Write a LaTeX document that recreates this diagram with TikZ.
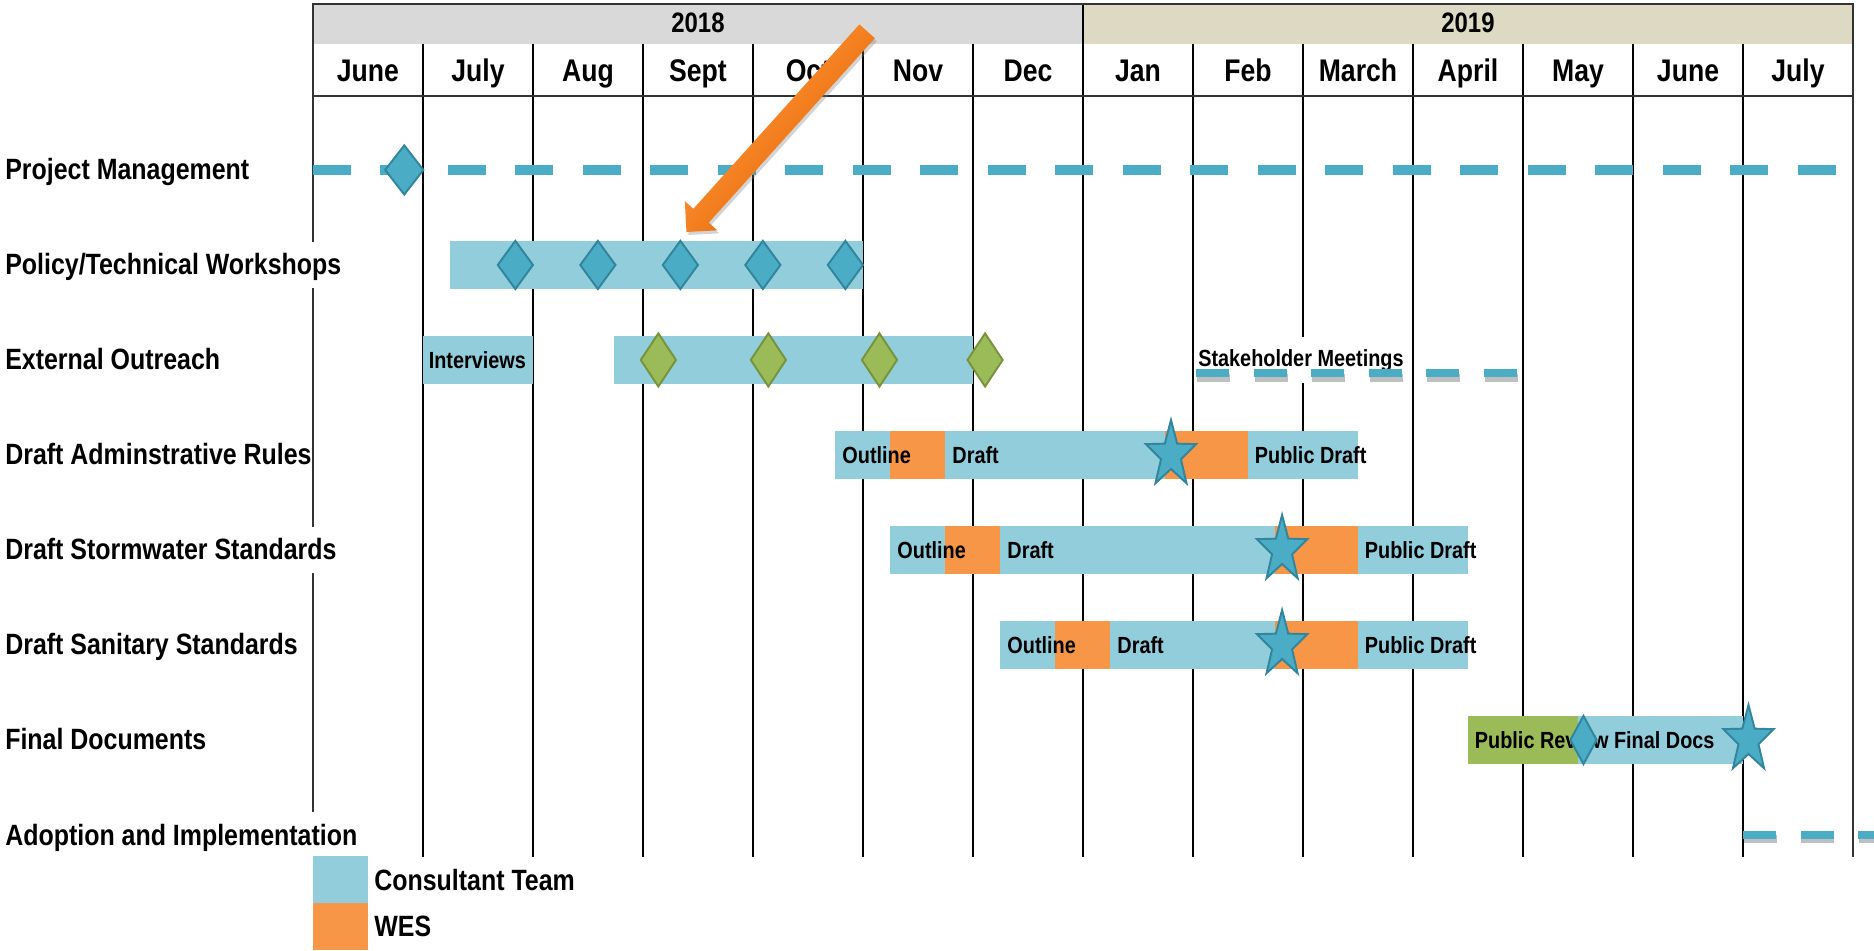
\documentclass[tikz,border=0pt]{standalone}
\usepackage{fontspec}
\setmainfont{Liberation Sans}[FakeStretch=0.85]
\usetikzlibrary{shapes.geometric,shapes.arrows,shadows}
\definecolor{cteam}{HTML}{92CDDC}
\definecolor{wes}{HTML}{F79646}
\definecolor{review}{HTML}{9BBB59}
\definecolor{mileblue}{HTML}{4BACC6}
\definecolor{mileedge}{HTML}{31859C}
\definecolor{greenedge}{HTML}{77933C}
\definecolor{yr18}{HTML}{D9D9D9}
\definecolor{yr19}{HTML}{DDD9C3}
\definecolor{arrdark}{HTML}{C25C0E}
\definecolor{arrmid}{HTML}{F47F1F}
\definecolor{arrlight}{HTML}{F9A85A}

\begin{document}
\begin{tikzpicture}[x=2.2cm,y=-1.9cm,
  grid/.style={draw=black,line width=0.7pt},
  frame/.style={draw=black!80,line width=1.1pt},
  yrtxt/.style={anchor=base,inner sep=0pt,font=\fontsize{16}{18}\selectfont\bfseries},
  montxt/.style={anchor=base,inner sep=0pt,font=\fontsize{17.8}{20}\selectfont\bfseries},
  rowlbl/.style={anchor=west,fill=white,inner xsep=0pt,inner ysep=0pt,text height=19pt,text depth=7.6pt,font=\fontsize{16.7}{18}\selectfont\bfseries},
  bartxt/.style={anchor=west,inner sep=0pt,text height=13pt,text depth=3.5pt,font=\fontsize{13.3}{15}\selectfont\bfseries},
  meettxt/.style={bartxt,fill=white,text height=17pt,text depth=9pt},
  legtxt/.style={anchor=base west,inner sep=0pt,font=\fontsize{16.7}{18}\selectfont\bfseries},
  pmline/.style={draw=mileblue,line width=0.2cm,dash pattern=on 0.76cm off 0.59cm},
  meetline/.style={draw=mileblue,line width=0.16cm,dash pattern=on 0.66cm off 0.49cm},
  meetshadow/.style={meetline,draw=black,opacity=0.25,xshift=0.5pt,yshift=-2.5pt},
  mile/.style={diamond,draw=mileedge,fill=mileblue,line width=1.1pt,inner sep=0pt,minimum width=0.72cm,minimum height=0.98cm},
  greenmile/.style={mile,draw=greenedge,fill=review,minimum height=1.08cm},
  starline/.style={draw=mileedge,fill=mileblue,line width=1.1pt},
  pics/milestar/.style={code={\draw[starline] (90:0.53cm and 0.7cm) \foreach \k in {0,...,4}{ -- (126+72*\k:0.21cm and 0.28cm) -- (162+72*\k:0.53cm and 0.7cm)} -- cycle;}}]
	\useasboundingbox (-2.845,-0.789) rectangle (14.191,9.221);
	
	% year bands and month grid
	\fill[yr18] (0,-0.75) rectangle (7,-0.33);
	\fill[yr19] (7,-0.75) rectangle (14,-0.33);
	\draw (3.5,-0.45)node[yrtxt](y18){2018} (10.5,-0.45)node[yrtxt](y19){2019};
	\foreach \i in {1,...,13}
	\draw[grid] (\i,-0.33)--(\i,8.23);
	\draw[grid] (7,-0.75)--(7,-0.33);
	\draw[frame] (0,8.23)--(0,-0.75)--(14,-0.75)--(14,8.23) (0,0.22)--(14,0.22);
	\foreach \m [count=\i from 0] in {June,July,Aug,Sept,Oct,Nov,Dec,Jan,Feb,March,April,May,June,July}
	\node[montxt] (m\i) at (\i+0.5,0.074) {\m};
	
	% bars: consultant team, WES, public review
	\foreach \a/\b/\r in {1.25/5/2,1/2/3,2.74/6/3,4.75/9.5/4,5.25/10.5/5,6.25/10.5/6,11.5/13/7}
	\fill[cteam] (\a,\r-0.25) rectangle (\b,\r+0.25);
	\foreach \a/\b/\r in {5.25/5.75/4,7.75/8.5/4,5.75/6.25/5,8.75/9.5/5,6.75/7.25/6,8.75/9.5/6}
	\fill[wes] (\a,\r-0.25) rectangle (\b,\r+0.25);
	\fill[review] (10.5,6.75) rectangle (11.5,7.25);
	\foreach \x/\r/\t [count=\n] in {1.05/3/Interviews,4.81/4/Outline,5.81/4/Draft,8.56/4/Public Draft,5.31/5/Outline,6.31/5/Draft,9.56/5/Public Draft,6.31/6/Outline,7.31/6/Draft,9.56/6/Public Draft,10.56/7/Public Review Final Docs}
	\node[bartxt] (bt\n) at (\x,\r) {\t};
	
	% dashed activities
	\draw[pmline] (0,1)--(13.85,1);
	\node[meettxt] (meet) at (8.045,3) {Stakeholder Meetings};
	\draw[meetshadow] (8.03,3.14)--(10.95,3.14) (13,8)--(14.25,8);
	\draw[meetline] (8.03,3.14)--(10.95,3.14) (13,8)--(14.25,8);
	
	% milestones
	\node[mile,minimum width=0.78cm,minimum height=1cm] (pm) at (0.83,1) {};
	\foreach \x [count=\n] in {1.84,2.59,3.34,4.09,4.84}
	\node[mile] (wk\n) at (\x,2) {};
	\foreach \x [count=\n] in {3.14,4.14,5.15,6.11}
	\node[greenmile] (eo\n) at (\x,3) {};
	\node[mile,minimum width=0.54cm] (rv) at (11.55,7) {};
	\foreach \x/\r in {7.8/4,8.81/5,8.81/6,13.05/7}
	\pic at (\x,\r) {milestar};
	
	% task names
	\foreach \t [count=\r] in {Project Management,{Policy/Technical Workshops},External Outreach,Draft Adminstrative Rules,Draft Stormwater Standards,Draft Sanitary Standards,Final Documents,Adoption and Implementation}
	\node[rowlbl] (row\r) at (-2.8,\r) {\t};
	
	% legend
	\fill[cteam] (0,8.22) rectangle (0.5,8.72);
	\fill[wes] (0,8.72) rectangle (0.5,9.21);
	\draw (0.555,8.58)node[legtxt](lg1){Consultant Team} (0.555,9.07)node[legtxt](lg2){WES};
	
	\node[single arrow,rotate=228,minimum height=5.4cm,inner xsep=0pt,inner ysep=0.2cm,single arrow head extend=0.23cm,top color=arrdark,bottom color=arrlight,middle color=arrmid,shading angle=228,drop shadow={opacity=0.35,shadow xshift=0.04cm,shadow yshift=-0.06cm}] (hint) at (4.248,0.556) {};
\end{tikzpicture}
\end{document}
